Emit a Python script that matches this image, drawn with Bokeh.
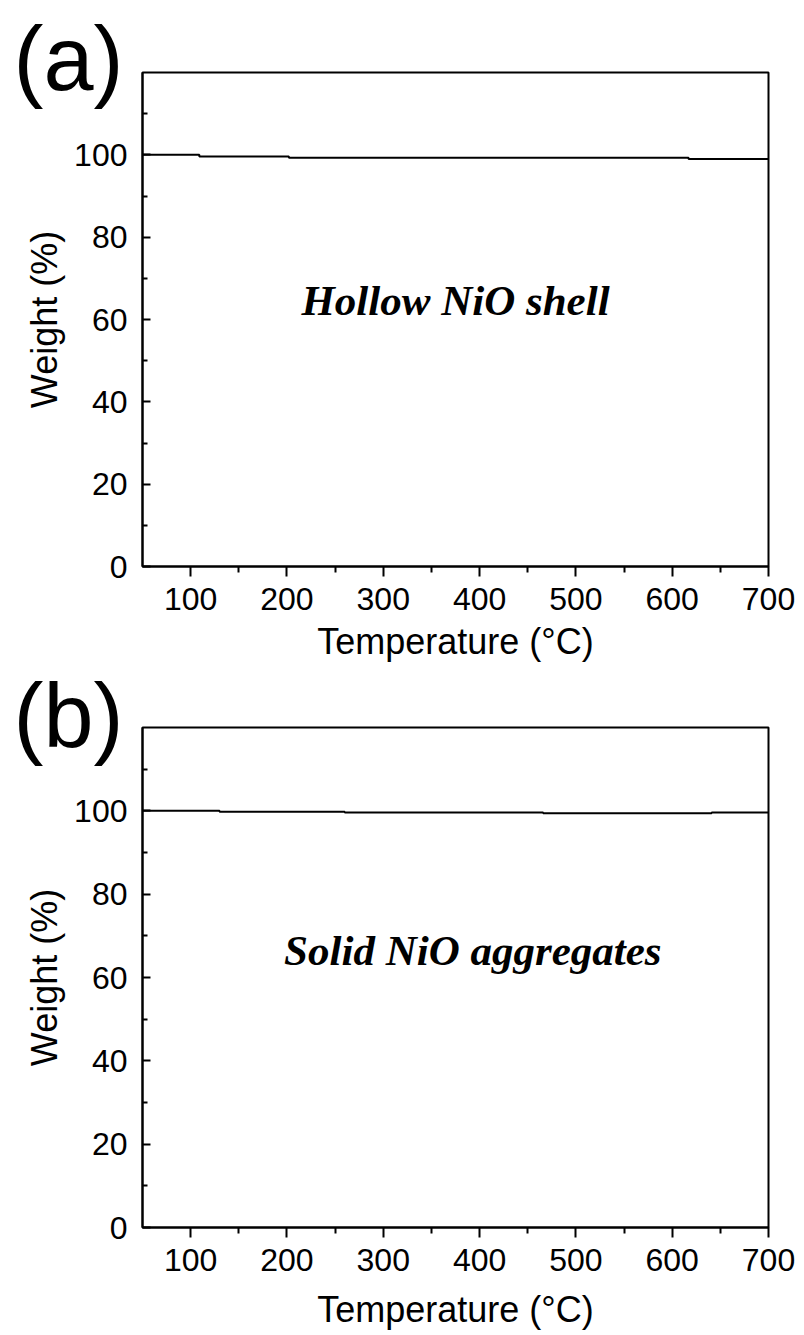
from bokeh.plotting import figure
from bokeh.models import FixedTicker, Range1d, Label
from bokeh.layouts import column
from bokeh.embed import file_html
from bokeh.resources import INLINE

# ---- data ----
temp_a = [50, 109, 202, 617, 700]
weight_a = [100.0, 99.6, 99.3, 99.0, 99.0]

temp_b = [50, 130, 260, 466, 641, 700]
weight_b = [100.0, 99.8, 99.6, 99.4, 99.6, 99.6]

x_major = [100, 200, 300, 400, 500, 600, 700]
x_minor = [150, 250, 350, 450, 550, 650]
y_major = [0, 20, 40, 60, 80, 100]
y_minor = [10, 30, 50, 70, 90, 110]

tags = ["(a)", "(b)"]
names = ["Hollow NiO shell", "Solid NiO aggregates"]
x_title = "Temperature (°C)"
y_title = "Weight (%)"

SANS = "Liberation Sans"
SERIF = "Liberation Serif"


def make_panel(temps, weights, tag, tag_standoff, name, name_x, name_y,
               height, top, bottom, right, xlabel_standoff):
    p = figure(width=804, height=height,
               x_range=Range1d(50, 700), y_range=Range1d(0, 120),
               output_backend="svg", toolbar_location=None,
               min_border_left=142, min_border_right=right,
               min_border_top=top, min_border_bottom=bottom)
    p.background_fill_color = "white"
    p.border_fill_color = "white"
    p.outline_line_color = "black"
    p.outline_line_width = 2
    p.outline_line_alpha = 1.0
    p.xgrid.visible = False
    p.ygrid.visible = False

    # panel tag drawn as the title, pulled down next to the frame's top-left corner
    p.title.text = tag
    p.title.text_font = SANS
    p.title.text_font_size = "90px"
    p.title.text_font_style = "normal"
    p.title.text_color = "black"
    p.title.align = "left"
    p.title.vertical_align = "bottom"
    p.title.offset = -129
    p.title.standoff = tag_standoff

    p.step(temps, weights, mode="after", line_color="black", line_width=2)

    xa = p.xaxis[0]
    xa.ticker = FixedTicker(ticks=x_major, minor_ticks=x_minor)
    xa.axis_line_width = 2
    xa.major_tick_line_width = 2
    xa.minor_tick_line_width = 2
    xa.major_tick_out = 10
    xa.major_tick_in = 0
    xa.minor_tick_out = 6
    xa.minor_tick_in = 0
    xa.major_label_text_font = SANS
    xa.major_label_text_font_size = "32px"
    xa.major_label_text_color = "black"
    xa.major_label_standoff = 11
    xa.axis_label = x_title
    xa.axis_label_text_font = SANS
    xa.axis_label_text_font_size = "36px"
    xa.axis_label_text_font_style = "normal"
    xa.axis_label_text_color = "black"
    xa.axis_label_standoff = xlabel_standoff

    ya = p.yaxis[0]
    ya.ticker = FixedTicker(ticks=y_major, minor_ticks=y_minor)
    ya.axis_line_width = 2
    ya.major_tick_line_width = 2
    ya.minor_tick_line_width = 2
    ya.major_tick_out = 0
    ya.major_tick_in = 8
    ya.minor_tick_out = 0
    ya.minor_tick_in = 5
    ya.major_label_text_font = SANS
    ya.major_label_text_font_size = "32px"
    ya.major_label_text_color = "black"
    ya.major_label_standoff = 15
    ya.axis_label = y_title
    ya.axis_label_text_font = SANS
    ya.axis_label_text_font_size = "36px"
    ya.axis_label_text_font_style = "normal"
    ya.axis_label_text_color = "black"
    ya.axis_label_standoff = 6

    p.add_layout(Label(x=name_x, y=name_y, text=name, text_font=SERIF,
                       text_font_size="43px", text_font_style="bold italic",
                       text_color="black", text_align="center", text_baseline="middle"))
    return p


pa = make_panel(temp_a, weight_a, tags[0], -72, names[0], 375, 64.6,
                height=664, top=72, bottom=96, right=36, xlabel_standoff=8)
pb = make_panel(temp_b, weight_b, tags[1], -76, names[1], 393, 66.5,
                height=671, top=63, bottom=108, right=34, xlabel_standoff=15)

layout = column(pa, pb, spacing=0)
open("out.html", "w").write(file_html(layout, INLINE))
